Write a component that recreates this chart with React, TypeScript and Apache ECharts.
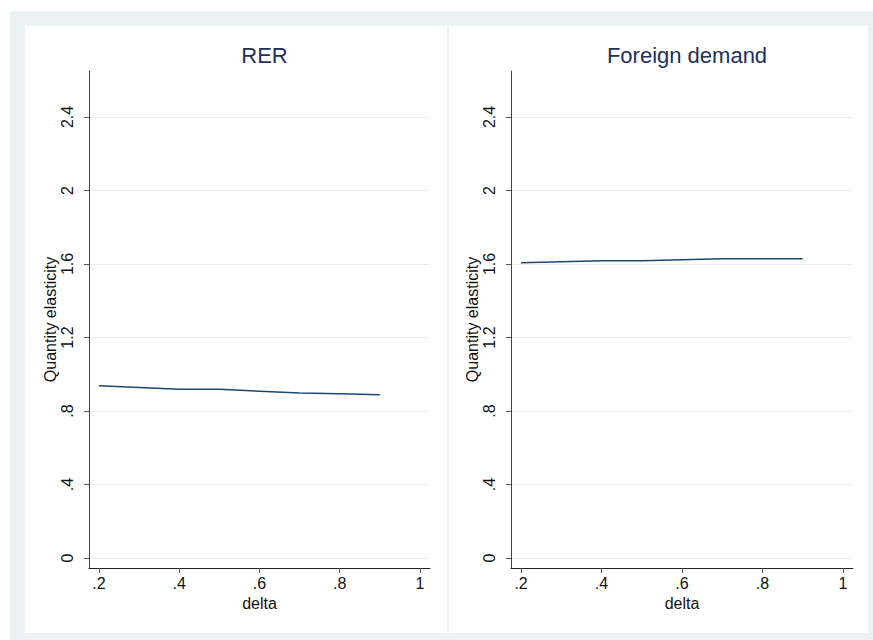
import React, { useEffect, useRef } from "react";
import * as echarts from "echarts";

const deltaValues = [0.2, 0.3, 0.4, 0.5, 0.6, 0.7, 0.8, 0.9];
const rerElasticity = [0.938, 0.928, 0.918, 0.918, 0.908, 0.898, 0.894, 0.889];
const foreignElasticity = [1.607, 1.612, 1.618, 1.618, 1.623, 1.628, 1.628, 1.628];
const panelTitles = ["RER", "Foreign demand"];
const xTicks = [0.2, 0.4, 0.6, 0.8, 1];
const yTicks = [0, 0.4, 0.8, 1.2, 1.6, 2, 2.4];
const xAxisTitle = "delta";
const yAxisTitle = "Quantity elasticity";

const fmt = (v: number) => {
  const s = String(Number(v.toFixed(3)));
  return s.replace(/^0\./, ".").replace(/^-0\./, "-.");
};

const FONT = "Liberation Sans, Arial, Helvetica, sans-serif";
const LINE_COLOR = "#1a476f";
const TITLE_COLOR = "#1e3158";
const GRID_COLOR = "#e6eef1";
const BG = "#eaf2f3";

export default function App() {
  const ref = useRef<HTMLDivElement>(null);
  useEffect(() => {
    if (!ref.current) return;
    const chart = echarts.init(ref.current, undefined, { renderer: "svg" });
    const grids = [
      { left: 89, top: 71, width: 341, height: 497 },
      { left: 511, top: 71, width: 342, height: 497 },
    ];
    const series = [rerElasticity, foreignElasticity];
    const mkX = (i: number) => ({
      type: "value",
      gridIndex: i,
      min: 0.175,
      max: 1.025,
      name: xAxisTitle,
      nameLocation: "middle",
      nameGap: 25,
      nameTextStyle: { fontFamily: FONT, fontSize: 16, color: "#111" },
      axisLine: { show: true, onZero: false, lineStyle: { color: "#222", width: 1 } },
      axisTick: { show: true, length: 5, lineStyle: { color: "#555" }, customValues: xTicks },
      axisLabel: {
        show: true,
        customValues: xTicks,
        formatter: (v: number) => fmt(v),
        fontFamily: FONT,
        fontSize: 16,
        color: "#111",
        margin: 7,
      },
      splitLine: { show: false },
    });
    const mkY = (i: number) => ({
      type: "value",
      gridIndex: i,
      min: -0.054,
      max: 2.65,
      name: yAxisTitle,
      nameLocation: "middle",
      nameGap: 30,
      nameRotate: 90,
      nameTextStyle: { fontFamily: FONT, fontSize: 16, color: "#111" },
      axisLine: { show: true, onZero: false, lineStyle: { color: "#444", width: 1 } },
      axisTick: { show: true, length: 5, lineStyle: { color: "#555" }, customValues: yTicks },
      axisLabel: {
        show: true,
        customValues: yTicks,
        rotate: 90,
        formatter: (v: number) => fmt(v),
        fontFamily: FONT,
        fontSize: 16,
        color: "#111",
        margin: 14,
      },
      splitLine: { show: true, lineStyle: { color: GRID_COLOR, width: 1 } },
    });
    chart.setOption({
      animation: false,
      backgroundColor: "#ffffff",
      graphic: [
        { type: "rect", z: -10, shape: { x: 10, y: 11, width: 863, height: 629 }, style: { fill: BG } },
        { type: "rect", z: -9, shape: { x: 25, y: 26, width: 422, height: 607 }, style: { fill: "#ffffff" } },
        { type: "rect", z: -9, shape: { x: 449, y: 26, width: 419, height: 607 }, style: { fill: "#ffffff" } },
      ],
      title: panelTitles.map((t, i) => ({
        text: t,
        left: i === 0 ? 259.5 : 682,
        top: 39,
        textAlign: "center",
        textStyle: { fontFamily: FONT, fontSize: 22, fontWeight: "normal", color: TITLE_COLOR },
      })),
      grid: grids,
      xAxis: [mkX(0), mkX(1)],
      yAxis: [mkY(0), mkY(1)],
      series: series.map((vals, i) => ({
        type: "line",
        xAxisIndex: i,
        yAxisIndex: i,
        data: deltaValues.map((d, j) => [d, vals[j]]),
        showSymbol: false,
        symbol: "none",
        lineStyle: { color: LINE_COLOR, width: 1.5 },
      })),
    });
    return () => chart.dispose();
  }, []);
  return (
    <div
      ref={ref}
      style={{ position: "absolute", left: 0, top: 0, width: 873, height: 640 }}
    />
  );
}
